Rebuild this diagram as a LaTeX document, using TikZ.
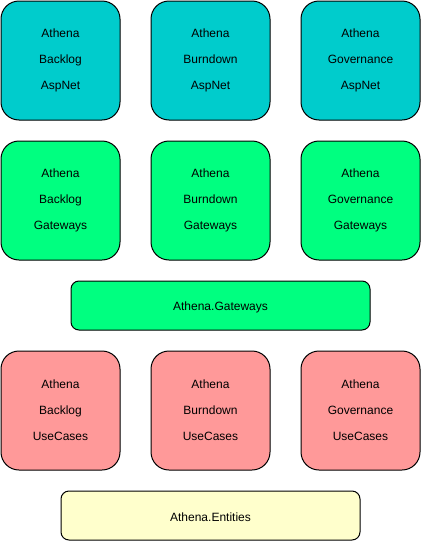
\documentclass[tikz,border=0pt]{standalone}
\usepackage{fontspec}
\setmainfont{Liberation Sans}
\usepackage{xcolor}
\usetikzlibrary{positioning}
\definecolor{aspcolor}{HTML}{00CCCC}
\definecolor{gwcolor}{HTML}{00FF80}
\definecolor{uccolor}{HTML}{FF9999}
\definecolor{entcolor}{HTML}{FFFFCC}
\tikzstyle{module} = [rectangle, rounded corners=18pt, minimum width=119pt, minimum height=119pt, text centered, draw=black, line width=1pt, align=center, font=\fontsize{12pt}{26pt}\selectfont]
\tikzstyle{aspnet} = [module, fill=aspcolor]
\tikzstyle{gateway} = [module, fill=gwcolor]
\tikzstyle{usecase} = [module, fill=uccolor]
\tikzstyle{bar} = [rectangle, rounded corners=8pt, minimum width=299pt, minimum height=49pt, text centered, draw=black, line width=1pt, font=\fontsize{12pt}{14pt}\selectfont, text height=12.6pt]

\begin{document}
\begin{tikzpicture}[node distance=150pt]
            \useasboundingbox (0,0) rectangle (421pt,-541pt);
            \node (aBacklog) [aspnet] at (60.5pt,-60.5pt) {Athena\\Backlog\\AspNet};
            \node (aBurndown) [aspnet, right of=aBacklog] {Athena\\Burndown\\AspNet};
            \node (aGovernance) [aspnet, right of=aBurndown] {Athena\\Governance\\AspNet};
            \node (gBacklog) [gateway, below of=aBacklog, yshift=10pt] {Athena\\Backlog\\Gateways};
            \node (gBurndown) [gateway, right of=gBacklog] {Athena\\Burndown\\Gateways};
            \node (gGovernance) [gateway, right of=gBurndown] {Athena\\Governance\\Gateways};
            \node (gateways) [bar, fill=gwcolor, below of=gBurndown, yshift=45pt, xshift=10pt] {Athena.Gateways};
            \node (uBacklog) [usecase, below of=gBacklog, yshift=-60pt] {Athena\\Backlog\\UseCases};
            \node (uBurndown) [usecase, right of=uBacklog] {Athena\\Burndown\\UseCases};
            \node (uGovernance) [usecase, right of=uBurndown] {Athena\\Governance\\UseCases};
            \node (entities) [bar, fill=entcolor, below of=uBurndown, yshift=45pt] {Athena.Entities};
        \end{tikzpicture}
\end{document}
